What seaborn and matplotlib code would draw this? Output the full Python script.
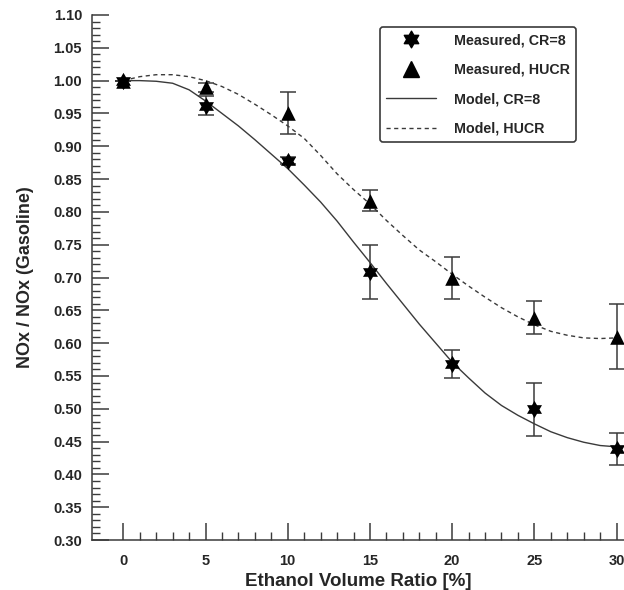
import numpy as np
import pandas as pd
import matplotlib
matplotlib.use("Agg")
import matplotlib.pyplot as plt
import seaborn as sns
from matplotlib.path import Path

# ---------------- data ----------------
ETHANOL = [0, 5, 10, 15, 20, 25, 30]

MEAS_CR8 = [1.000, 0.962, 0.878, 0.708, 0.568, 0.499, 0.439]
MEAS_CR8_ERR = [0.000, 0.015, 0.005, 0.041, 0.021, 0.040, 0.024]

MEAS_HUCR = [1.000, 0.990, 0.951, 0.817, 0.700, 0.639, 0.610]
MEAS_HUCR_ERR = [0.000, 0.007, 0.032, 0.016, 0.032, 0.025, 0.049]

MODEL_X = list(range(0, 31))
MODEL_CR8 = [1.000, 1.000, 0.999, 0.996, 0.986, 0.969, 0.950, 0.931, 0.910, 0.888,
             0.866, 0.841, 0.815, 0.786, 0.754, 0.723, 0.691, 0.660, 0.629, 0.600,
             0.571, 0.547, 0.524, 0.505, 0.490, 0.477, 0.465, 0.456, 0.449, 0.444,
             0.442]
MODEL_HUCR = [1.000, 1.006, 1.009, 1.009, 1.006, 1.000, 0.991, 0.979, 0.964, 0.948,
              0.931, 0.912, 0.886, 0.858, 0.834, 0.812, 0.787, 0.764, 0.742, 0.724,
              0.705, 0.687, 0.670, 0.654, 0.640, 0.628, 0.618, 0.612, 0.608, 0.607,
              0.608]

LABELS = ["Measured, CR=8", "Measured, HUCR", "Model, CR=8", "Model, HUCR"]
X_LABEL = "Ethanol Volume Ratio [%]"
Y_LABEL = "NOx / NOx (Gasoline)"

# ---------------- style ----------------
sns.set_style("ticks")
plt.rcParams["font.family"] = ["Liberation Sans", "DejaVu Sans"]
plt.rcParams["font.weight"] = "bold"

LINE_COL = "#3a3a3a"

# six-pointed star (hexagram) marker
ang_out = np.deg2rad(90 + np.arange(6) * 60)
ang_in = ang_out + np.deg2rad(30)
r_in = 1 / np.sqrt(3)
verts = []
for ao, ai in zip(ang_out, ang_in):
    verts.append((np.cos(ao), np.sin(ao)))
    verts.append((r_in * np.cos(ai), r_in * np.sin(ai)))
verts.append(verts[0])
codes = [Path.MOVETO] + [Path.LINETO] * (len(verts) - 2) + [Path.CLOSEPOLY]
HEXAGRAM = Path(verts, codes)

fig = plt.figure(figsize=(6.24, 5.90), dpi=100)
ax = fig.add_axes([0.147, 0.0847, 0.853, 0.8899])

model_df = pd.DataFrame({
    "x": MODEL_X * 2,
    "y": MODEL_CR8 + MODEL_HUCR,
    "series": [LABELS[2]] * len(MODEL_X) + [LABELS[3]] * len(MODEL_X),
})
sns.lineplot(data=model_df, x="x", y="y", style="series", ax=ax,
             color=LINE_COL, linewidth=1.0, legend=False,
             dashes={LABELS[2]: "", LABELS[3]: (3, 2.5)})

ax.errorbar(ETHANOL, MEAS_HUCR, yerr=MEAS_HUCR_ERR, fmt="none",
            ecolor=LINE_COL, elinewidth=1.1, capsize=5.5, capthick=1.1, zorder=3)
ax.errorbar(ETHANOL, MEAS_CR8, yerr=MEAS_CR8_ERR, fmt="none",
            ecolor=LINE_COL, elinewidth=1.1, capsize=5.5, capthick=1.1, zorder=3)
sns.scatterplot(x=ETHANOL, y=MEAS_HUCR, marker="^", s=110, color="black",
                edgecolor="black", linewidth=0, ax=ax, zorder=4)
sns.scatterplot(x=ETHANOL, y=MEAS_CR8, marker=HEXAGRAM, s=155, color="black",
                edgecolor="black", linewidth=0, ax=ax, zorder=5)

ax.set_xlim(-1.92, 30.45)
ax.set_ylim(0.30, 1.10)
ax.set_xticks(np.arange(0, 31, 5))
ax.set_xticks(np.arange(0, 31, 1), minor=True)
ax.set_yticks(np.arange(0.30, 1.101, 0.05))
ax.set_yticks(np.arange(0.30, 1.101, 0.01), minor=True)
ax.set_yticklabels([f"{v:.2f}" for v in np.arange(0.30, 1.101, 0.05)])

ax.tick_params(axis="both", which="major", direction="in", length=12.5, width=1.1,
               color=LINE_COL, labelsize=10.5)
ax.tick_params(axis="y", which="major", pad=7)
ax.tick_params(axis="x", which="major", pad=10)
ax.tick_params(axis="both", which="minor", direction="in", length=6, width=1.0,
               color=LINE_COL)
for lab in ax.get_xticklabels() + ax.get_yticklabels():
    lab.set_fontweight("bold")

sns.despine(ax=ax, top=True, right=True)
for side in ("left", "bottom"):
    ax.spines[side].set_color(LINE_COL)
    ax.spines[side].set_linewidth(1.1)

ax.set_xlabel(X_LABEL, fontsize=13.5, fontweight="bold", labelpad=4)
ax.set_ylabel(Y_LABEL, fontsize=13, fontweight="bold", labelpad=14)

# legend
handles = [
    plt.Line2D([], [], linestyle="none", marker=HEXAGRAM, markersize=12,
               color="black"),
    plt.Line2D([], [], linestyle="none", marker="^", markersize=11, color="black"),
    plt.Line2D([], [], color=LINE_COL, linewidth=1.0),
    plt.Line2D([], [], color=LINE_COL, linewidth=1.0, dashes=(3, 2.5)),
]
leg = ax.legend(handles, LABELS, loc="upper right",
                bbox_to_anchor=(576 / 624, 1 - 27 / 590),
                bbox_transform=fig.transFigure,
                prop={"size": 10.3, "weight": "bold"}, frameon=True,
                fancybox=True, handlelength=3.5, handletextpad=1.2,
                labelspacing=1.08, borderpad=0.45, borderaxespad=0)
leg.get_frame().set_edgecolor(LINE_COL)
leg.get_frame().set_linewidth(1.2)
leg.get_frame().set_alpha(1)

fig.savefig("out.png", dpi=100)
